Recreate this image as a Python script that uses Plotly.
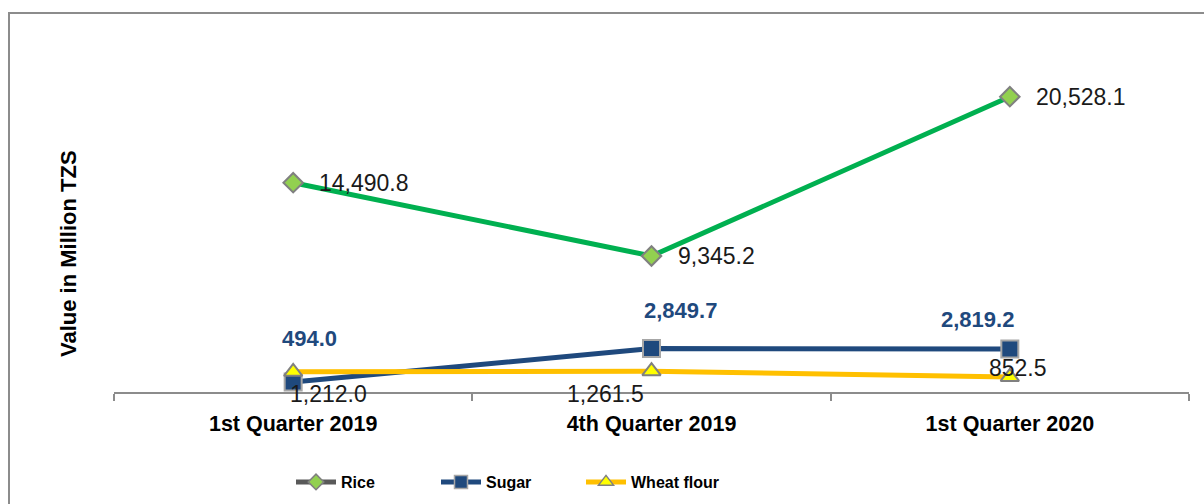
import plotly.graph_objects as go

categories = ["1st Quarter 2019", "4th Quarter 2019", "1st Quarter 2020"]
rice = [14490.8, 9345.2, 20528.1]
sugar = [494.0, 2849.7, 2819.2]
wheat_flour = [1212.0, 1261.5, 852.5]

FONT = "Liberation Sans, Arial, sans-serif"
RICE_C = "#00b050"
SUGAR_C = "#1f497d"
WHEAT_C = "#ffc000"

fig = go.Figure()

fig.add_trace(go.Scatter(x=categories, y=rice, mode="lines+markers", showlegend=False,
                         line=dict(color=RICE_C, width=5),
                         marker=dict(symbol="diamond", size=15, color="#92d050",
                                     line=dict(color="#808080", width=2))))
fig.add_trace(go.Scatter(x=categories, y=sugar, mode="lines+markers", showlegend=False,
                         line=dict(color=SUGAR_C, width=5),
                         marker=dict(symbol="square", size=17, color=SUGAR_C,
                                     line=dict(color="#a6a6a6", width=2))))
fig.add_trace(go.Scatter(x=categories, y=wheat_flour, mode="lines+markers", showlegend=False,
                         line=dict(color=WHEAT_C, width=5),
                         marker=dict(symbol="triangle-up", size=16, color="#ffff00",
                                     line=dict(color="#808080", width=2))))

# legend entries
fig.add_trace(go.Scatter(x=[None], y=[None], mode="lines+markers", name="<b>Rice</b>",
                         line=dict(color="#595959", width=5),
                         marker=dict(symbol="diamond", size=12, color="#92d050",
                                     line=dict(color="#808080", width=1.5))))
fig.add_trace(go.Scatter(x=[None], y=[None], mode="lines+markers", name="<b>Sugar</b>",
                         line=dict(color=SUGAR_C, width=5),
                         marker=dict(symbol="square", size=13, color=SUGAR_C,
                                     line=dict(color="#a6a6a6", width=1.5))))
fig.add_trace(go.Scatter(x=[None], y=[None], mode="lines+markers", name="<b>Wheat flour</b>",
                         line=dict(color=WHEAT_C, width=5),
                         marker=dict(symbol="triangle-up", size=13, color="#ffff00",
                                     line=dict(color="#808080", width=1.5))))

W, H = 1204, 504
L, R, T, B = 114, 15, 33, 112
pw, ph = W - L - R, H - T - B

def px_x(x):
    return (x - L) / pw

def px_y(y):
    return (H - B - y) / ph

annotations = []
# Rice labels: right of markers
for c, v in zip(categories, rice):
    annotations.append(dict(x=c, y=v, xref="x", yref="y", text=f"{v:,.1f}", showarrow=False,
                            xanchor="left", yanchor="middle", xshift=24,
                            font=dict(family=FONT, size=23, color="#1a1a1a")))
sugar_shift = [(16, 44), (29, 38), (-32, 29)]
for c, v, (dx, dy) in zip(categories, sugar, sugar_shift):
    annotations.append(dict(x=c, y=v, xref="x", yref="y", text=f"<b>{v:,.1f}</b>", showarrow=False,
                            xanchor="center", yanchor="middle", xshift=dx, yshift=dy,
                            font=dict(family=FONT, size=22, color=SUGAR_C)))
wheat_shift = [(35, -22), (-46, -23), (8, 9)]
for c, v, (dx, dy) in zip(categories, wheat_flour, wheat_shift):
    annotations.append(dict(x=c, y=v, xref="x", yref="y", text=f"{v:,.1f}", showarrow=False,
                            xanchor="center", yanchor="middle", xshift=dx, yshift=dy,
                            font=dict(family=FONT, size=23, color="#1a1a1a")))

# y axis title
annotations.append(dict(x=px_x(68), y=px_y(254), xref="paper", yref="paper",
                        text="<b>Value in Million TZS</b>",
                        showarrow=False, textangle=-90, xanchor="center", yanchor="middle",
                        font=dict(family=FONT, size=22, color="#000000")))

fig.update_layout(
    width=W, height=H,
    margin=dict(l=L, r=R, t=T, b=B, autoexpand=False),
    paper_bgcolor="white", plot_bgcolor="white",
    font=dict(family=FONT, color="#000000"),
    annotations=annotations,
    xaxis=dict(type="category", range=[-0.5, 2.5], showgrid=False, zeroline=False,
               showline=True, linecolor="#8c8c8c", linewidth=2, automargin=False,
               ticks="outside", tickson="boundaries", ticklen=7, tickcolor="#8c8c8c", tickwidth=2,
               tickfont=dict(family=FONT, size=21.5, color="#000000"),
               ticklabelstandoff=11,
               tickprefix="<b>", ticksuffix="</b>"),
    yaxis=dict(range=[-204, 25000], showgrid=False, zeroline=False, showline=False,
               showticklabels=False, ticks="", automargin=False),
    legend=dict(orientation="h", x=px_x(291), xref="paper",
                y=(H - 482) / H, yref="container", xanchor="left", yanchor="middle",
                font=dict(family=FONT, size=16, color="#000000"), itemwidth=40,
                entrywidth=90, entrywidthmode="pixels", bgcolor="rgba(0,0,0,0)"),
    shapes=[dict(type="rect", xref="paper", yref="paper",
                 x0=px_x(9), y0=px_y(560), x1=px_x(1260), y1=px_y(13),
                 line=dict(color="#8c8c8c", width=2), fillcolor="rgba(0,0,0,0)", layer="below")],
    showlegend=True,
)

fig.write_html(
    "out.html",
    config={"displayModeBar": False},
    post_script="document.body.style.margin='0';",
)
